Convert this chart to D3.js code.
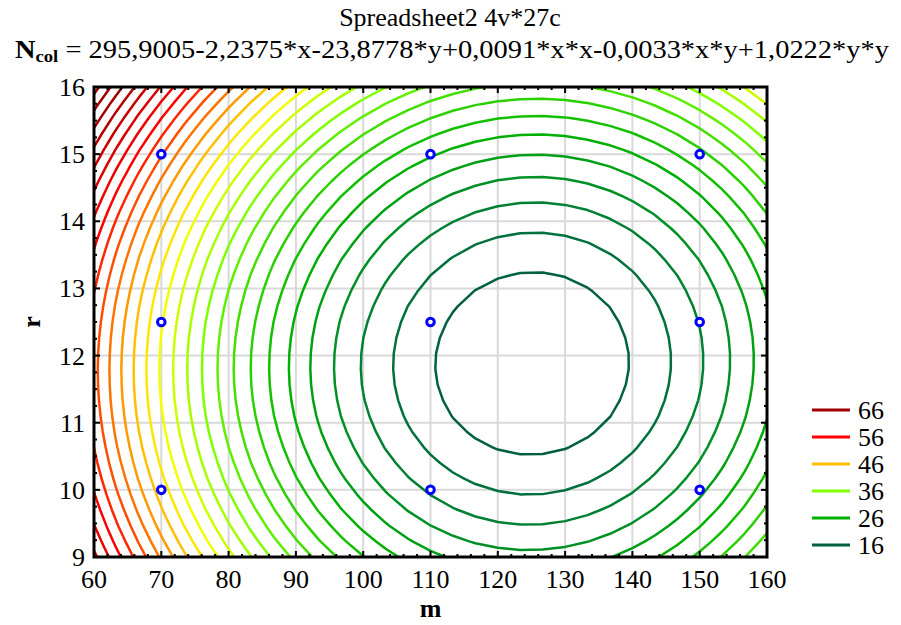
<!DOCTYPE html>
<html>
<head>
<meta charset="utf-8">
<script src="https://cdn.jsdelivr.net/npm/d3@7"></script>
<style>
  body { margin: 0; background: #fff; }
</style>
</head>
<body>
<div id="chart"></div>
<script>
// fitted surface coefficients (from the title formula)
const coef = {c: 295.9005, x: -2.2375, y: -23.8778, xx: 0.0091, xy: -0.0033, yy: 1.0222};
// contour levels drawn, every 2 units
const levels = [16, 18, 20, 22, 24, 26, 28, 30, 32, 34, 36, 38, 40, 42, 44, 46, 48, 50, 52, 54, 56, 58, 60, 62, 64, 66, 68, 70];
// legend levels and colours
const legendLevels = [66, 56, 46, 36, 26, 16];
const legendColors = ["#a00000", "#ff0000", "#ffc000", "#80ff00", "#00b000", "#006040"];
// observed design points
const pointM = [70, 70, 70, 110, 110, 110, 150, 150, 150];
const pointR = [10, 12.5, 15, 10, 12.5, 15, 10, 12.5, 15];
const xTicks = [60, 70, 80, 90, 100, 110, 120, 130, 140, 150, 160];
const yTicks = [9, 10, 11, 12, 13, 14, 15, 16];

const width = 901, height = 625;
const margins = {left: 94, right: 134, top: 87, bottom: 68};
const serif = "'Liberation Serif', 'Times New Roman', Times, serif";

const svg = d3.select("#chart").append("svg")
    .attr("width", width)
    .attr("height", height)
    .attr("font-family", serif);

const x_scale = d3.scaleLinear().domain([60, 160]).range([margins.left, width - margins.right]);
const y_scale = d3.scaleLinear().domain([9, 16]).range([height - margins.bottom, margins.top]);

const color = d3.scaleLinear()
    .domain(legendLevels.slice().reverse())
    .range(legendColors.slice().reverse())
    .interpolate(d3.interpolateHsl)
    .clamp(true);

// title
svg.append("text")
    .attr("x", 450).attr("y", 26)
    .attr("text-anchor", "middle")
    .attr("font-size", "26px")
    .text("Spreadsheet2 4v*27c");

const t2 = svg.append("text")
    .attr("x", 452).attr("y", 58)
    .attr("text-anchor", "middle")
    .attr("font-size", "26px")
    .attr("textLength", 874)
    .attr("lengthAdjust", "spacingAndGlyphs");
t2.append("tspan").attr("font-weight", "bold").text("N");
t2.append("tspan").attr("font-weight", "bold").attr("font-size", "17px").attr("dy", 4).text("col");
t2.append("tspan").attr("dy", -4).text(" = 295,9005-2,2375*x-23,8778*y+0,0091*x*x-0,0033*x*y+1,0222*y*y");

// grid lines
const grid = svg.append("g").attr("stroke", "#d9d9d9").attr("stroke-width", 2);
xTicks.forEach(t => grid.append("line")
    .attr("x1", x_scale(t)).attr("x2", x_scale(t))
    .attr("y1", y_scale(9)).attr("y2", y_scale(16)));
yTicks.forEach(t => grid.append("line")
    .attr("x1", x_scale(60)).attr("x2", x_scale(160))
    .attr("y1", y_scale(t)).attr("y2", y_scale(t)));

// evaluate the surface on a grid
const nx = 31, ny = 31;
const dxv = (160 - 60) / (nx - 1), dyv = (16 - 9) / (ny - 1);
const values = new Array(nx * ny);
for (let j = 0; j < ny; j++) {
    for (let i = 0; i < nx; i++) {
        const xv = 60 + i * dxv, yv = 9 + j * dyv;
        values[j * nx + i] = coef.c + coef.x * xv + coef.y * yv + coef.xx * xv * xv + coef.xy * xv * yv + coef.yy * yv * yv;
    }
}

const contours = d3.contours().size([nx, ny]).thresholds(levels)(values);

svg.append("clipPath").attr("id", "plotclip")
    .append("rect")
    .attr("x", margins.left).attr("y", margins.top)
    .attr("width", width - margins.left - margins.right)
    .attr("height", height - margins.top - margins.bottom);

const proj = d3.geoTransform({
    point: function(gx, gy) {
        this.stream.point(x_scale(60 + (gx - 0.5) * dxv), y_scale(9 + (gy - 0.5) * dyv));
    }
});

svg.append("g")
    .attr("clip-path", "url(#plotclip)")
    .selectAll("path")
    .data(contours)
    .join("path")
        .attr("d", d3.geoPath(proj))
        .attr("fill", "none")
        .attr("stroke", d => color(d.value))
        .attr("stroke-width", 2.5)
        .attr("stroke-linejoin", "round");

// design points
svg.append("g").selectAll("circle")
    .data(pointM.map((m, i) => [m, pointR[i]]))
    .join("circle")
        .attr("cx", d => x_scale(d[0]))
        .attr("cy", d => y_scale(d[1]))
        .attr("r", 3.8)
        .attr("fill", "#fff")
        .attr("stroke", "#0000ff")
        .attr("stroke-width", 3);

// frame and ticks (inward, all four sides)
const x0 = x_scale(60), x1 = x_scale(160), y0 = y_scale(9), y1 = y_scale(16);
const ticks = svg.append("g").attr("stroke", "#000").attr("stroke-width", 2);
d3.range(60, 160.01, 2).forEach(t => {
    const len = (t % 10 === 0) ? 6 : 3;
    ticks.append("line").attr("x1", x_scale(t)).attr("x2", x_scale(t)).attr("y1", y0).attr("y2", y0 - len);
    ticks.append("line").attr("x1", x_scale(t)).attr("x2", x_scale(t)).attr("y1", y1).attr("y2", y1 + len);
});
d3.range(9, 16.001, 0.25).forEach(t => {
    const len = (Math.abs(t - Math.round(t)) < 1e-6) ? 6 : 3;
    ticks.append("line").attr("x1", x0).attr("x2", x0 + len).attr("y1", y_scale(t)).attr("y2", y_scale(t));
    ticks.append("line").attr("x1", x1).attr("x2", x1 - len).attr("y1", y_scale(t)).attr("y2", y_scale(t));
});
svg.append("rect")
    .attr("x", x0).attr("y", y1)
    .attr("width", x1 - x0).attr("height", y0 - y1)
    .attr("fill", "none").attr("stroke", "#000").attr("stroke-width", 3);

// tick labels
svg.append("g").selectAll("text")
    .data(xTicks)
    .join("text")
        .attr("x", d => x_scale(d))
        .attr("y", y0 + 31)
        .attr("text-anchor", "middle")
        .attr("font-size", "26px")
        .text(d => d);

svg.append("g").selectAll("text")
    .data(yTicks)
    .join("text")
        .attr("x", x0 - 9)
        .attr("y", d => y_scale(d) + 9)
        .attr("text-anchor", "end")
        .attr("font-size", "26px")
        .text(d => d);

// axis titles
svg.append("text")
    .attr("x", x_scale(110)).attr("y", 617)
    .attr("text-anchor", "middle")
    .attr("font-size", "26px").attr("font-weight", "bold")
    .text("m");
svg.append("text")
    .attr("transform", "translate(40," + y_scale(12.5) + ") rotate(-90)")
    .attr("text-anchor", "middle")
    .attr("font-size", "26px").attr("font-weight", "bold")
    .text("r");

// legend
const legend = svg.append("g");
legendLevels.forEach((lv, i) => {
    const ly = 410 + i * 27;
    legend.append("line")
        .attr("x1", 812).attr("x2", 850)
        .attr("y1", ly).attr("y2", ly)
        .attr("stroke", legendColors[i]).attr("stroke-width", 3);
    legend.append("text")
        .attr("x", 858).attr("y", ly + 9)
        .attr("font-size", "26px")
        .text(lv);
});
</script>
</body>
</html>
